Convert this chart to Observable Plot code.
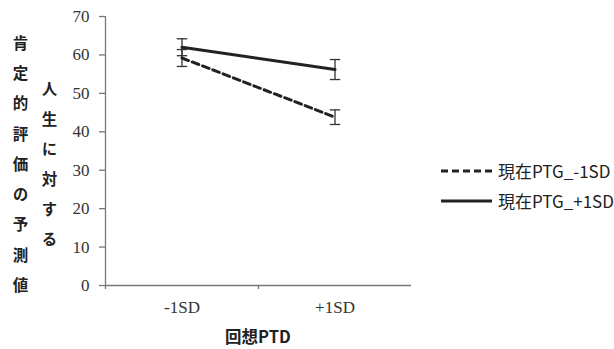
<!DOCTYPE html>
<html><head><meta charset="utf-8">
<script src="https://cdn.jsdelivr.net/npm/d3@7"></script>
<script src="https://cdn.jsdelivr.net/npm/@observablehq/plot@0.6"></script>
<style>
body{margin:0;background:#fff}
#wrap{position:relative;width:614px;height:349px;overflow:hidden}
#wrap svg text{font-family:"Liberation Serif",serif}
.vt{position:absolute;writing-mode:vertical-rl;font-family:"Noto Sans CJK JP";font-weight:700;font-size:15.5px;color:#222;line-height:1}
.xt{position:absolute;font-family:"Noto Sans CJK JP";font-weight:700;font-size:16.5px;color:#222;left:0;width:516px;text-align:center;top:327px;line-height:1.2}
.leg{position:absolute;left:440px;font-family:"Noto Sans CJK JP";font-size:17px;color:#222;display:flex;align-items:center;gap:5px;white-space:nowrap;line-height:1.2}
</style></head><body><div id="wrap"></div>
<script>
const categories = ["-1SD", "+1SD"];
const seriesNames = ["現在PTG_-1SD", "現在PTG_+1SD"];
const meansLow = [59.2, 43.8];
const meansHigh = [62.0, 56.2];
const errLow = [2.2, 1.9];
const errHigh = [2.2, 2.6];
const yTicks = [0, 10, 20, 30, 40, 50, 60, 70];
const xTitle = "回想PTD";
const yTitle1 = "肯定的評価の予測値";
const yTitle2 = "人生に対する";

const rows = [];
categories.forEach((c, i) => {
  rows.push({series: seriesNames[0], cat: c, x: i + 0.5, y: meansLow[i], e: errLow[i]});
  rows.push({series: seriesNames[1], cat: c, x: i + 0.5, y: meansHigh[i], e: errHigh[i]});
});
const dashOf = s => s === seriesNames[0] ? "7,4" : null;
const capW = 0.034;

const chart = Plot.plot({
  width: 614, height: 349,
  marginLeft: 105, marginRight: 203, marginTop: 16, marginBottom: 64,
  style: {background: "transparent", overflow: "visible", fontFamily: "Liberation Serif"},
  x: {domain: [0, 2]},
  y: {domain: [0, 70]},
  marks: [
    Plot.ruleX([0], {stroke: "#777", strokeWidth: 1.3}),
    Plot.ruleY([0], {stroke: "#777", strokeWidth: 1.3}),
    Plot.axisY({ticks: yTicks, tickSize: 6, tickPadding: 10, stroke: "#777", strokeWidth: 1.3, label: null,
      fontFamily: "Liberation Serif", fontSize: 17, fill: "#333"}),
    Plot.axisX({ticks: [0, 1], tickSize: 4, tickFormat: () => "", stroke: "#777", strokeWidth: 1.3, label: null}),
    Plot.axisX({ticks: [0.5, 1.5], tickSize: 0, tickPadding: 15, tickFormat: d => categories[Math.floor(d)], label: null,
      fontFamily: "Liberation Serif", fontSize: 17, fill: "#333"}),
    Plot.ruleX(rows, {x: "x", y1: d => d.y - d.e, y2: d => d.y + d.e, stroke: "#333", strokeWidth: 1.3}),
    Plot.link(rows, {x1: d => d.x - capW, x2: d => d.x + capW, y1: d => d.y - d.e, y2: d => d.y - d.e, stroke: "#333", strokeWidth: 1.3}),
    Plot.link(rows, {x1: d => d.x - capW, x2: d => d.x + capW, y1: d => d.y + d.e, y2: d => d.y + d.e, stroke: "#333", strokeWidth: 1.3}),
    Plot.line(rows.filter(d => d.series === seriesNames[0]), {x: "x", y: "y", stroke: "#222", strokeWidth: 3, strokeDasharray: "7,4"}),
    Plot.line(rows.filter(d => d.series === seriesNames[1]), {x: "x", y: "y", stroke: "#222", strokeWidth: 3})
  ]
});
const wrap = document.getElementById("wrap");
wrap.appendChild(chart);

function vt(text, left, top, spacing) {
  const d = document.createElement("div");
  d.className = "vt";
  d.style.left = left + "px";
  d.style.top = top + "px";
  d.style.letterSpacing = spacing + "px";
  d.textContent = text;
  wrap.appendChild(d);
}
vt(yTitle1, 12, 35, 14.8);
vt(yTitle2, 41, 81, 14.6);

const xt = document.createElement("div");
xt.className = "xt"; xt.textContent = xTitle; wrap.appendChild(xt);

seriesNames.forEach((s, i) => {
  const d = document.createElement("div");
  d.className = "leg";
  d.style.top = (161 + i * 30) + "px";
  d.innerHTML = `<svg width="53" height="6"><line x1="1" x2="52" y1="3" y2="3" stroke="#222" stroke-width="3" ${dashOf(s) ? 'stroke-dasharray="7,4"' : ''}/></svg><span>${s}</span>`;
  wrap.appendChild(d);
});
</script></body></html>
